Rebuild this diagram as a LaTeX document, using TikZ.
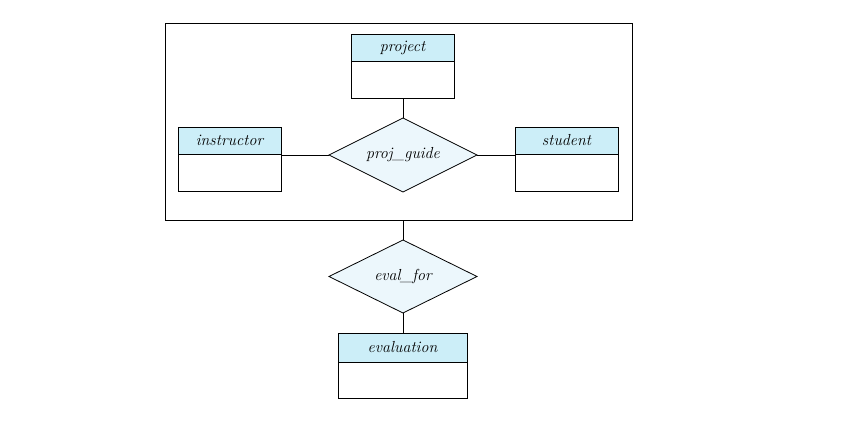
\documentclass[tikz,border=0pt]{standalone}
\usepackage{fontspec}
\setmainfont{Latin Modern Roman}
\usetikzlibrary{shapes.geometric}
\definecolor{hdr}{RGB}{204,238,248}
\definecolor{dia}{RGB}{236,247,252}
\begin{document}
\begin{tikzpicture}[x=1pt,y=-1pt,line width=0.8pt,
  lbl/.style={font=\fontsize{16}{18}\selectfont\itshape},
  ehead/.style={draw,fill=hdr,minimum width=103pt,minimum height=27pt,inner sep=0pt,outer sep=0pt,anchor=north,lbl},
  ebody/.style={draw,fill=white,minimum width=103pt,minimum height=37pt,inner sep=0pt,outer sep=0pt,anchor=north},
  rel/.style={draw,fill=dia,diamond,aspect=2,minimum width=148pt,minimum height=74pt,inner sep=0pt,outer sep=0pt,lbl},
  conn/.style={draw}]
\useasboundingbox (0,0) rectangle (844,421);
% aggregation box
\node[draw,minimum width=467pt,minimum height=197pt,inner sep=0pt,outer sep=0pt] (agg) at (398.5,121.5) {};
% entities
\node[ehead] (project) at (402.5,34) {project};
\node[ebody] (projectb) at (project.south) {};
\node[ehead] (instructor) at (229.5,127) {instructor};
\node[ebody] (instructorb) at (instructor.south) {};
\node[ehead] (student) at (566.5,127) {student};
\node[ebody] (studentb) at (student.south) {};
\node[ehead,minimum width=129pt,minimum height=29pt] (evaluation) at (402.5,333) {evaluation};
\node[ebody,minimum width=129pt,minimum height=36pt] (evaluationb) at (evaluation.south) {};
% relationships
\node[rel] (pg) at (403,155) {proj\_guide};
\node[rel,minimum height=73pt] (ef) at (403,276.5) {eval\_for};
% connectors
\draw[conn] (projectb.south -| pg.north) -- (pg.north);
\draw[conn] (pg.west -| instructorb.east) -- (pg.west);
\draw[conn] (pg.east) -- (pg.east -| studentb.west);
\draw[conn] (agg.south -| ef.north) -- (ef.north);
\draw[conn] (ef.south) -- (evaluation.north -| ef.south);
\end{tikzpicture}
\end{document}
